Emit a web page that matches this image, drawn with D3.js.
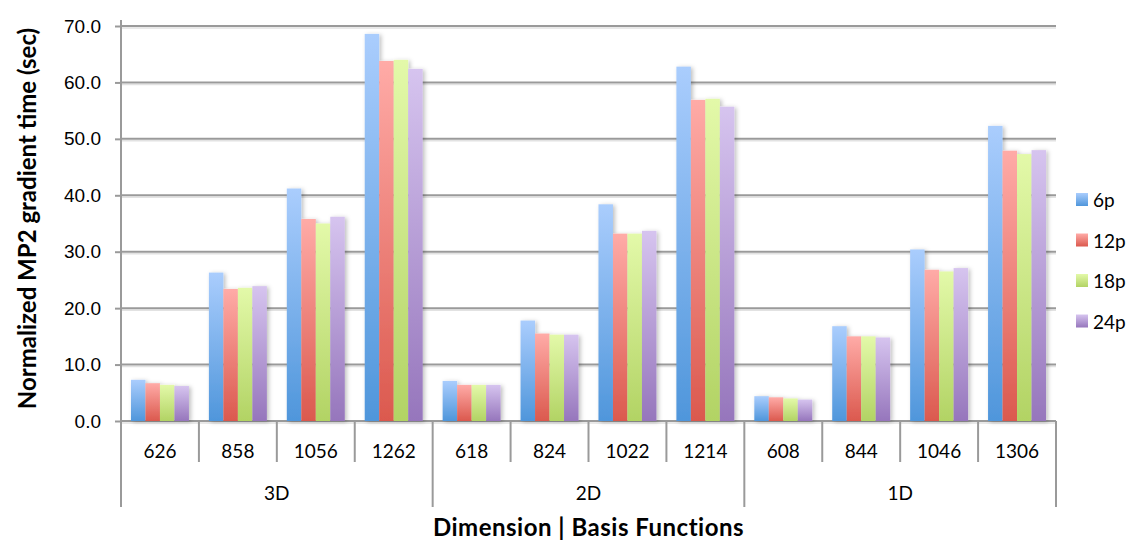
<!DOCTYPE html>
<html>
<head>
<meta charset="utf-8">
<title>MP2 gradient time</title>
<script src="https://cdn.jsdelivr.net/npm/d3@7"></script>
<style>
  body { margin: 0; background: #fff; }
  svg { font-family: Lato, "Open Sans", sans-serif; }
</style>
</head>
<body>
<script>
// data
const basis = ['626', '858', '1056', '1262', '618', '824', '1022', '1214', '608', '844', '1046', '1306'];
const dims = ['3D', '3D', '3D', '3D', '2D', '2D', '2D', '2D', '1D', '1D', '1D', '1D'];
const seriesNames = ['6p', '12p', '18p', '24p'];
const s6p  = [7.3, 26.3, 41.2, 68.6, 7.1, 17.8, 38.4, 62.8, 4.4, 16.8, 30.4, 52.3];
const s12p = [6.7, 23.4, 35.8, 63.8, 6.4, 15.5, 33.2, 56.9, 4.2, 15.0, 26.8, 47.9];
const s18p = [6.4, 23.6, 35.0, 64.0, 6.4, 15.3, 33.2, 57.1, 4.0, 15.0, 26.5, 47.3];
const s24p = [6.2, 23.9, 36.2, 62.4, 6.4, 15.3, 33.7, 55.7, 3.8, 14.8, 27.1, 48.0];
const yTicks = [0, 10, 20, 30, 40, 50, 60, 70];

const series = [s6p, s12p, s18p, s24p];
// light top / dark bottom like the excel gradient
const colTop = ['#aacdfd', '#ffaba7', '#e3f9a9', '#d6c4ef'];
const colBot = ['#4f96db', '#db594e', '#b2d364', '#9676bc'];

const W = 1133, H = 544;
const mLeft = 121, mRight = 1056, mTop = 26, mBottom = 421;

const svg = d3.select('body').append('svg')
  .attr('width', W).attr('height', H);

const defs = svg.append('defs');
seriesNames.forEach(function(n, i) {
  const g = defs.append('linearGradient').attr('id', 'grad' + i)
    .attr('x1', 0).attr('y1', 0).attr('x2', 0).attr('y2', 1);
  g.append('stop').attr('offset', '0%').attr('stop-color', colTop[i]);
  g.append('stop').attr('offset', '100%').attr('stop-color', colBot[i]);
});
defs.append('filter').attr('id', 'shadow')
  .attr('x', '-20%').attr('y', '-5%').attr('width', '160%').attr('height', '115%')
  .append('feDropShadow')
  .attr('dx', 2).attr('dy', 1).attr('stdDeviation', 2)
  .attr('flood-color', '#000').attr('flood-opacity', 0.25);

const keys = basis.map(function(b, i) { return dims[i] + '|' + b; });

const x = d3.scaleBand().domain(keys).range([mLeft, mRight]).padding(0);
const bw = x.bandwidth();
const xs = d3.scaleBand().domain(seriesNames)
  .range([bw * 0.128, bw * 0.872]).padding(0);
const y = d3.scaleLinear().domain([0, 70]).range([mBottom, mTop]);

// grid
const grid = svg.append('g');
grid.selectAll('line.sh').data(yTicks).enter().append('line')
  .attr('x1', mLeft).attr('x2', mRight)
  .attr('y1', function(d) { return y(d) + 2; }).attr('y2', function(d) { return y(d) + 2; })
  .attr('stroke', '#e2e2e2').attr('stroke-width', 1.5);
grid.selectAll('line.g').data(yTicks).enter().append('line')
  .attr('x1', mLeft).attr('x2', mRight)
  .attr('y1', function(d) { return y(d); }).attr('y2', function(d) { return y(d); })
  .attr('stroke', '#9a9a9a').attr('stroke-width', 2);

// bars
const barsG = svg.append('g').attr('filter', 'url(#shadow)');
series.forEach(function(vals, si) {
  barsG.selectAll('rect.s' + si).data(vals).enter().append('rect')
    .attr('class', 's' + si)
    .attr('x', function(d, i) { return x(keys[i]) + xs(seriesNames[si]); })
    .attr('width', xs.bandwidth())
    .attr('y', function(d) { return y(d); })
    .attr('height', function(d) { return y(0) - y(d); })
    .attr('fill', 'url(#grad' + si + ')');
});

// y axis
const yAxis = svg.append('g')
  .attr('transform', 'translate(' + mLeft + ',0)')
  .call(d3.axisLeft(y).tickValues(yTicks).tickSize(6).tickPadding(14)
    .tickFormat(d3.format('.1f')));
yAxis.select('.domain').remove();
yAxis.selectAll('line').attr('stroke', '#9a9a9a').attr('stroke-width', 2);
yAxis.selectAll('text').attr('font-size', '19px').attr('fill', '#000');
svg.append('line').attr('x1', mLeft).attr('x2', mLeft)
  .attr('y1', mTop - 6).attr('y2', 507)
  .attr('stroke', '#9a9a9a').attr('stroke-width', 2);

// x axis: inner category lines, then group separators
const groups = ['3D', '2D', '1D'];
const cat = svg.append('g');
keys.forEach(function(k, i) {
  if (i > 0 && dims[i] === dims[i - 1]) {
    cat.append('line').attr('x1', x(k)).attr('x2', x(k))
      .attr('y1', mBottom).attr('y2', 462)
      .attr('stroke', '#9a9a9a').attr('stroke-width', 2);
  }
  cat.append('text').attr('x', x(k) + bw / 2).attr('y', 458)
    .attr('text-anchor', 'middle').attr('font-size', '19px').text(basis[i]);
});
groups.forEach(function(g) {
  const idx = keys.filter(function(k, i) { return dims[i] === g; });
  const x0 = x(idx[0]), x1 = x(idx[idx.length - 1]) + bw;
  cat.append('line').attr('x1', x1).attr('x2', x1)
    .attr('y1', mBottom).attr('y2', 507)
    .attr('stroke', '#9a9a9a').attr('stroke-width', 2);
  cat.append('text').attr('x', (x0 + x1) / 2).attr('y', 500)
    .attr('text-anchor', 'middle').attr('font-size', '19px').text(g);
});

// titles
svg.append('text').attr('x', (mLeft + mRight) / 2).attr('y', 536)
  .attr('text-anchor', 'middle').attr('font-size', '24px').attr('font-weight', 'bold')
  .attr('letter-spacing', '0.5px')
  .text('Dimension | Basis Functions');
svg.append('text')
  .attr('transform', 'translate(36,' + ((mTop + mBottom) / 2 - 5) + ') rotate(-90)')
  .attr('text-anchor', 'middle').attr('font-size', '24px').attr('font-weight', 'bold')
  .text('Normalized MP2 gradient time (sec)');

// legend
const leg = svg.append('g').attr('transform', 'translate(1076,193)');
seriesNames.forEach(function(n, i) {
  const row = leg.append('g').attr('transform', 'translate(0,' + (i * 40.5) + ')');
  row.append('rect').attr('width', 12).attr('height', 13).attr('fill', 'url(#grad' + i + ')');
  row.append('text').attr('x', 17).attr('y', 14).attr('font-size', '19px').text(n);
});
</script>
</body>
</html>
